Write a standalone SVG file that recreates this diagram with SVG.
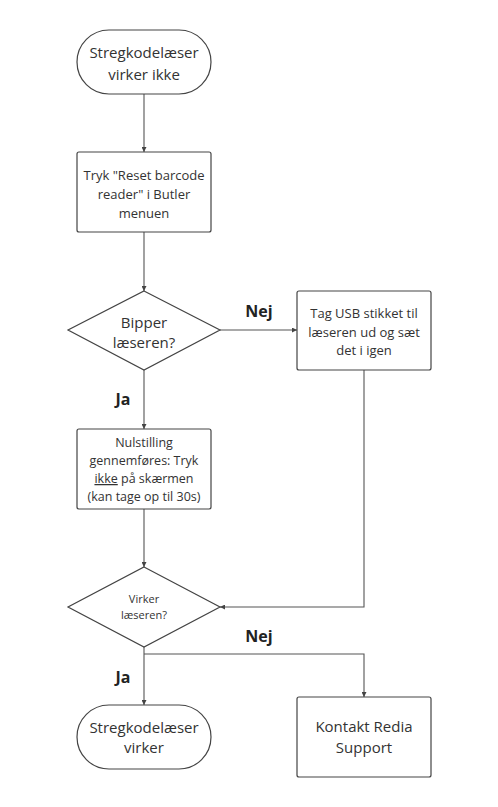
<svg xmlns="http://www.w3.org/2000/svg" width="498" height="807" viewBox="0 0 498 807">
<style>
.s{fill:#fff;stroke:#444;stroke-width:1.2}
.t{font-family:"Open Sans","Liberation Sans",sans-serif;fill:#333;text-anchor:middle}
.c{fill:none;stroke:#555;stroke-width:1.1}
.l{font-family:"Open Sans","Liberation Sans",sans-serif;font-weight:bold;font-size:16px;fill:#222;text-anchor:middle}
</style>
<defs>
<marker id="a" viewBox="0 0 6 6" refX="6" refY="3" markerWidth="5" markerHeight="5" orient="auto" markerUnits="userSpaceOnUse">
<path d="M0,0 L6,3 L0,6 Z" fill="#444"/>
</marker>
</defs>
<rect width="498" height="807" fill="#fff"/>
<g id="connectors">
<path class="c" d="M144,94 V152" marker-end="url(#a)"/>
<path class="c" d="M144,232 V291" marker-end="url(#a)"/>
<path class="c" d="M220,330 H297" marker-end="url(#a)"/>
<path class="c" d="M144,370 V429" marker-end="url(#a)"/>
<path class="c" d="M144,509 V567" marker-end="url(#a)"/>
<path class="c" d="M364,370 V607 H220" marker-end="url(#a)"/>
<path class="c" d="M144,647 V705" marker-end="url(#a)"/>
<path class="c" d="M144,654 H364 V697" marker-end="url(#a)"/>
<text class="l" x="259" y="317">Nej</text>
<text class="l" x="123" y="405">Ja</text>
<text class="l" x="259" y="642">Nej</text>
<text class="l" x="123" y="683">Ja</text>
</g>
<g id="start">
<rect class="s" x="77" y="30" width="134" height="64" rx="32"/>
<text class="t" font-size="15" x="144" y="58">Stregkodelæser</text>
<text class="t" font-size="15" x="144" y="80">virker ikke</text>
</g>
<g id="reset">
<rect class="s" x="77" y="152" width="134" height="80" rx="2"/>
<text class="t" font-size="13" x="144" y="180">Tryk "Reset barcode</text>
<text class="t" font-size="13" x="144" y="199">reader" i Butler</text>
<text class="t" font-size="13" x="144" y="218">menuen</text>
</g>
<g id="bipper">
<polygon class="s" points="144,291 220,330 144,370 68,330"/>
<text class="t" font-size="15" x="144" y="328">Bipper</text>
<text class="t" font-size="15" x="144" y="348">læseren?</text>
</g>
<g id="usb">
<rect class="s" x="297" y="291" width="134" height="79" rx="2"/>
<text class="t" font-size="13" x="364" y="318">Tag USB stikket til</text>
<text class="t" font-size="13" x="364" y="337">læseren ud og sæt</text>
<text class="t" font-size="13" x="364" y="355">det i igen</text>
</g>
<g id="nulstilling">
<rect class="s" x="77" y="429" width="134" height="80" rx="2"/>
<text class="t" font-size="12.5" x="144" y="447">Nulstilling</text>
<text class="t" font-size="12.5" x="144" y="465">gennemføres: Tryk</text>
<text class="t" font-size="12.5" x="144" y="483"><tspan text-decoration="underline">ikke</tspan> på skærmen</text>
<text class="t" font-size="12.5" x="144" y="501">(kan tage op til 30s)</text>
</g>
<g id="virker">
<polygon class="s" points="144,567 220,607 144,647 68,607"/>
<text class="t" font-size="11" x="144" y="603">Virker</text>
<text class="t" font-size="11" x="144" y="619">læseren?</text>
</g>
<g id="end">
<rect class="s" x="77" y="705" width="134" height="64" rx="32"/>
<text class="t" font-size="15" x="144" y="733">Stregkodelæser</text>
<text class="t" font-size="15" x="144" y="753">virker</text>
</g>
<g id="support">
<rect class="s" x="297" y="697" width="134" height="80" rx="2"/>
<text class="t" font-size="15" x="364" y="732">Kontakt Redia</text>
<text class="t" font-size="15" x="364" y="753">Support</text>
</g>
</svg>
